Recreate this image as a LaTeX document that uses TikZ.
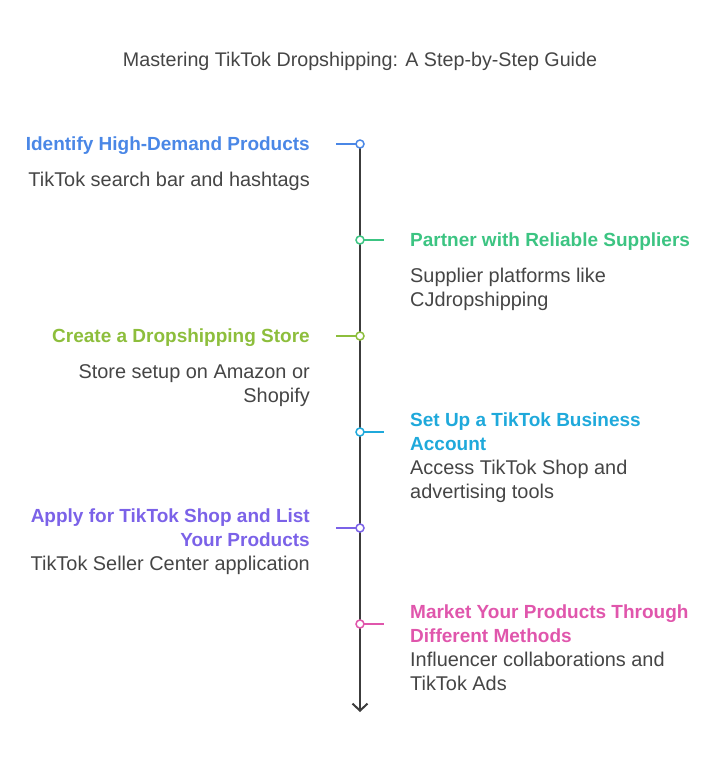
\documentclass[tikz,border=0pt]{standalone}
\usepackage{fontspec}
\setmainfont{Liberation Sans}
\usetikzlibrary{arrows.meta}
\definecolor{txtgray}{HTML}{454545}
\definecolor{axisgray}{HTML}{3C3C3C}
\definecolor{cblue}{HTML}{4A87E6}
\definecolor{cgreen}{HTML}{3CC482}
\definecolor{colive}{HTML}{8DBE3C}
\definecolor{ccyan}{HTML}{1FA9DB}
\definecolor{cpurple}{HTML}{7B62E8}
\definecolor{cpink}{HTML}{E056AC}
\newcommand{\tstrut}{\rule[-6pt]{0pt}{24pt}}
\tikzset{head/.style={font=\fontsize{19}{24}\selectfont\bfseries,inner sep=0pt,minimum height=48pt},
desc/.style={font=\fontsize{19.9}{24}\selectfont,text=txtgray,inner sep=0pt},
dot/.style={circle,draw,fill=white,line width=1.5pt,inner sep=0pt,minimum size=8pt},
tick/.style={line width=1.5pt},
axis/.style={line width=2pt,draw=axisgray,-{Straight Barb[length=7pt,width=15pt]}}}

\begin{document}
\begin{tikzpicture}[x=1pt,y=-1pt]
\useasboundingbox (0,0) rectangle (720,761);
\node[desc,font=\fontsize{19.7}{24}\selectfont] (title) at (360,60) {\tstrut Mastering TikTok Dropshipping: A Step-by-Step Guide};

% left side
\node[head,text=cblue,anchor=east,align=right] (h1) at (310,144) {\tstrut Identify High-Demand Products};
\node[desc,anchor=north east,align=right] (d1) at (h1.south east) {\tstrut TikTok search bar and hashtags};
\node[head,text=colive,anchor=east,align=right] (h3) at (310,336) {\tstrut Create a Dropshipping Store};
\node[desc,anchor=north east,align=right] (d3) at (h3.south east) {\tstrut Store setup on Amazon or\\\tstrut Shopify};
\node[head,text=cpurple,anchor=east,align=right] (h5) at (310,528) {\tstrut Apply for TikTok Shop and List\\\tstrut Your Products};
\node[desc,anchor=north east,align=right] (d5) at (h5.south east) {\tstrut TikTok Seller Center application};

% right side
\node[head,text=cgreen,anchor=west,align=left] (h2) at (410,240) {\tstrut Partner with Reliable Suppliers};
\node[desc,anchor=north west,align=left] (d2) at (h2.south west) {\tstrut Supplier platforms like\\\tstrut CJdropshipping};
\node[head,text=ccyan,anchor=west,align=left] (h4) at (410,432) {\tstrut Set Up a TikTok Business\\\tstrut Account};
\node[desc,anchor=north west,align=left] (d4) at (h4.south west) {\tstrut Access TikTok Shop and\\\tstrut advertising tools};
\node[head,text=cpink,anchor=west,align=left] (h6) at (410,624) {\tstrut Market Your Products Through\\\tstrut Different Methods};
\node[desc,anchor=north west,align=left] (d6) at (h6.south west) {\tstrut Influencer collaborations and\\\tstrut TikTok Ads};

% timeline
\coordinate (top) at (360,144);
\coordinate (bottom) at (360,712);
\draw[axis] (top) -- (bottom);

\coordinate (t1) at (336,144);
\coordinate (t2) at (384,240);
\coordinate (t3) at (336,336);
\coordinate (t4) at (384,432);
\coordinate (t5) at (336,528);
\coordinate (t6) at (384,624);

\draw[tick,cblue] (top) -- (t1);
\draw[tick,cgreen] (360,240) coordinate (p2) -- (t2);
\draw[tick,colive] (360,336) coordinate (p3) -- (t3);
\draw[tick,ccyan] (360,432) coordinate (p4) -- (t4);
\draw[tick,cpurple] (360,528) coordinate (p5) -- (t5);
\draw[tick,cpink] (360,624) coordinate (p6) -- (t6);

\node[dot,draw=cblue] (m1) at (top) {};
\node[dot,draw=cgreen] (m2) at (p2) {};
\node[dot,draw=colive] (m3) at (p3) {};
\node[dot,draw=ccyan] (m4) at (p4) {};
\node[dot,draw=cpurple] (m5) at (p5) {};
\node[dot,draw=cpink] (m6) at (p6) {};
\end{tikzpicture}
\end{document}
